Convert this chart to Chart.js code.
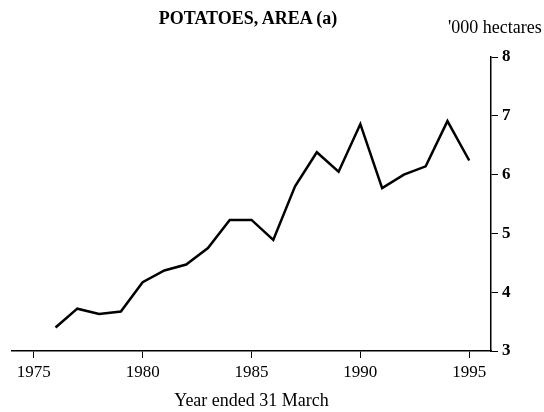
<!DOCTYPE html>
<html>
<head>
<meta charset="utf-8">
<script src="https://cdn.jsdelivr.net/npm/chart.js@4/dist/chart.umd.min.js"></script>
<style>
  html, body { margin: 0; padding: 0; background: #fff; }
  .wrap { position: relative; width: 544px; height: 412px; }
  .title {
    position: absolute; left: 0; width: 496px; top: 8px; text-align: center;
    font: bold 18px/21px "Liberation Serif", serif; color: #000;
  }
  .units {
    position: absolute; left: 448px; top: 17px;
    font: 18px/21px "Liberation Serif", serif; color: #000; white-space: nowrap;
  }
</style>
</head>
<body>
<div class="wrap">
  <canvas id="chart" width="544" height="412"></canvas>
  <div class="title">POTATOES, AREA (a)</div>
  <div class="units">'000 hectares</div>
</div>
<script>
// year ended 31 March
const years = [1976, 1977, 1978, 1979, 1980, 1981, 1982, 1983, 1984, 1985,
               1986, 1987, 1988, 1989, 1990, 1991, 1992, 1993, 1994, 1995];
// '000 hectares
const area = [3.40, 3.72, 3.63, 3.67, 4.17, 4.37, 4.47, 4.75, 5.23, 5.23,
              4.89, 5.80, 6.38, 6.05, 6.86, 5.77, 6.00, 6.14, 6.91, 6.24];
const xLabelYears = [1975, 1980, 1985, 1990, 1995];
const yTicks = [3, 4, 5, 6, 7, 8];

const points = years.map((y, i) => ({ x: y, y: area[i] }));

const ctx = document.getElementById('chart');
new Chart(ctx, {
  type: 'line',
  data: {
    datasets: [{
      data: points,
      borderColor: '#000',
      borderWidth: 2.5,
      pointRadius: 0,
      tension: 0,
      fill: false
    }]
  },
  options: {
    responsive: false,
    animation: false,
    layout: { padding: { top: 57, left: 12, right: 0, bottom: 0 } },
    plugins: {
      legend: { display: false },
      tooltip: { enabled: false }
    },
    scales: {
      x: {
        type: 'linear',
        min: 1974,
        max: 1996,
        afterBuildTicks: scale => {
          scale.ticks = xLabelYears.map(v => ({ value: v }));
        },
        afterFit: scale => { scale.height = 61; },
        border: { display: true, color: '#000', width: 1.5 },
        grid: { display: true, drawOnChartArea: false, drawTicks: true, tickLength: 7, color: '#000' },
        ticks: {
          color: '#000',
          padding: 4,
          maxRotation: 0,
          font: { family: 'Liberation Serif', size: 17 },
          callback: v => String(v)
        },
        title: {
          display: true,
          text: 'Year ended 31 March',
          color: '#000',
          padding: { top: 4, bottom: 0 },
          font: { family: 'Liberation Serif', size: 18 }
        }
      },
      y: {
        position: 'right',
        min: 3,
        max: 8,
        afterBuildTicks: scale => {
          scale.ticks = yTicks.map(v => ({ value: v }));
        },
        afterFit: scale => { scale.width = 53; },
        border: { display: true, color: '#000', width: 1.5 },
        grid: { display: true, drawOnChartArea: false, drawTicks: true, tickLength: 7, color: '#000' },
        ticks: {
          color: '#000',
          padding: 4,
          font: { family: 'Liberation Serif', size: 17, weight: 'bold' }
        }
      }
    }
  }
});
</script>
</body>
</html>
